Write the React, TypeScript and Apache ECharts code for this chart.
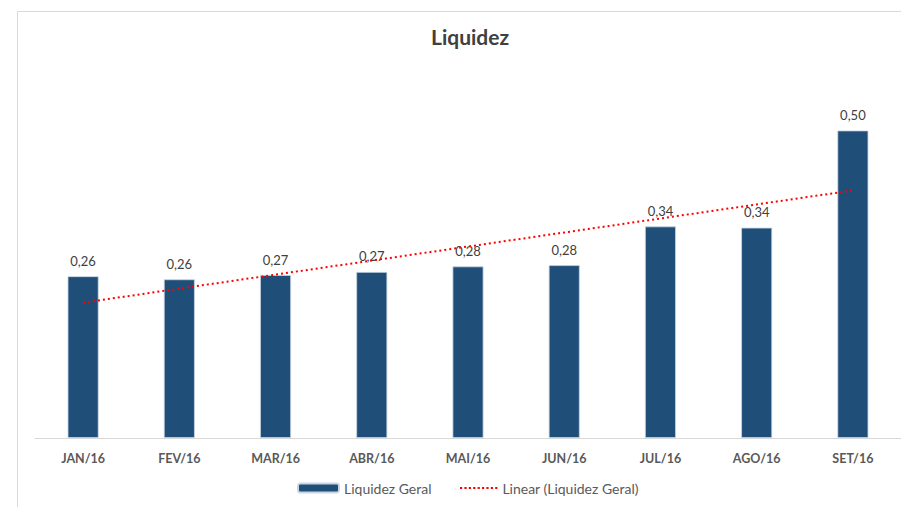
import React, { useEffect, useRef } from "react";
import * as echarts from "echarts";

const categories = ["JAN/16", "FEV/16", "MAR/16", "ABR/16", "MAI/16", "JUN/16", "JUL/16", "AGO/16", "SET/16"];
const liquidezGeral = [0.263, 0.258, 0.265, 0.27, 0.279, 0.281, 0.344, 0.342, 0.5];

function linearTrend(values: number[]): number[] {
  const n = values.length;
  const mx = (n - 1) / 2;
  const my = values.reduce((a, b) => a + b, 0) / n;
  let num = 0;
  let den = 0;
  values.forEach((v, i) => {
    num += (i - mx) * (v - my);
    den += (i - mx) * (i - mx);
  });
  const slope = num / den;
  return values.map((_, i) => my + slope * (i - mx));
}

const FONT = "Lato, 'Open Sans', sans-serif";

// dotted legend icon: small squares in a row
const dotIcon = (() => {
  let d = "path://";
  for (let i = 0; i < 9; i++) {
    const x = i * 4.4;
    d += `M${x},0h2.2v2.2h-2.2z`;
  }
  return d;
})();

export default function App() {
  const ref = useRef<HTMLDivElement>(null);
  useEffect(() => {
    if (!ref.current) return;
    const chart = echarts.init(ref.current, null, { renderer: "svg" });
    const trend = linearTrend(liquidezGeral);
    chart.setOption({
      animation: false,
      backgroundColor: "#ffffff",
      title: {
        text: "Liquidez",
        left: 431,
        top: 26,
        padding: 0,
        textStyle: { fontFamily: FONT, fontSize: 21, fontWeight: "bold", color: "#404040" },
      },
      graphic: [
        {
          type: "rect",
          shape: { x: 17.5, y: 11.5, width: 1000, height: 600 },
          style: { fill: "none", stroke: "#d9d9d9", lineWidth: 1 },
          silent: true,
        },
      ],
      legend: [
        {
          data: ["Liquidez Geral"],
          left: 297,
          top: 481,
          padding: 0,
          itemWidth: 41,
          itemHeight: 9,
          itemGap: 4,
          textStyle: { fontFamily: FONT, fontSize: 14, color: "#595959", padding: [0, 0, 0, 0] },
        },
        {
          data: [{ name: "Linear (Liquidez Geral)", icon: dotIcon }],
          left: 460,
          top: 481,
          padding: 0,
          itemWidth: 37.4,
          itemHeight: 2.2,
          itemStyle: { color: "#FF0000" },
          textStyle: { fontFamily: FONT, fontSize: 14, color: "#595959", padding: [0, 0, 0, 0] },
        },
      ],
      grid: { left: 35, right: -4, top: 69, bottom: 69, containLabel: false },
      xAxis: {
        type: "category",
        data: categories,
        axisLine: { show: true, lineStyle: { color: "#d9d9d9", width: 1 } },
        axisTick: { show: false },
        axisLabel: {
          fontFamily: FONT,
          fontSize: 12.5,
          fontWeight: "bold",
          color: "#595959",
          margin: 14,
        },
      },
      yAxis: {
        type: "value",
        min: 0,
        max: 0.6,
        show: false,
        splitLine: { show: false },
      },
      series: [
        {
          name: "Liquidez Geral",
          type: "bar",
          data: liquidezGeral,
          barWidth: 31,
          itemStyle: { color: "#1F4E79", borderColor: "#c9d6e3", borderWidth: 0.8 },
          label: {
            show: true,
            position: "top",
            distance: 9,
            fontFamily: FONT,
            fontSize: 13,
            color: "#404040",
            formatter: (p: any) => p.value.toFixed(2).replace(".", ","),
          },
        },
        {
          name: "Linear (Liquidez Geral)",
          type: "line",
          data: trend,
          symbol: "none",
          z: 5,
          lineStyle: { color: "#FF0000", width: 2, type: [2, 3] },
          itemStyle: { color: "#FF0000" },
        },
      ],
    });
    return () => chart.dispose();
  }, []);
  return (
    <div
      ref={ref}
      style={{ position: "fixed", left: 0, top: 0, width: 901, height: 507 }}
    />
  );
}
